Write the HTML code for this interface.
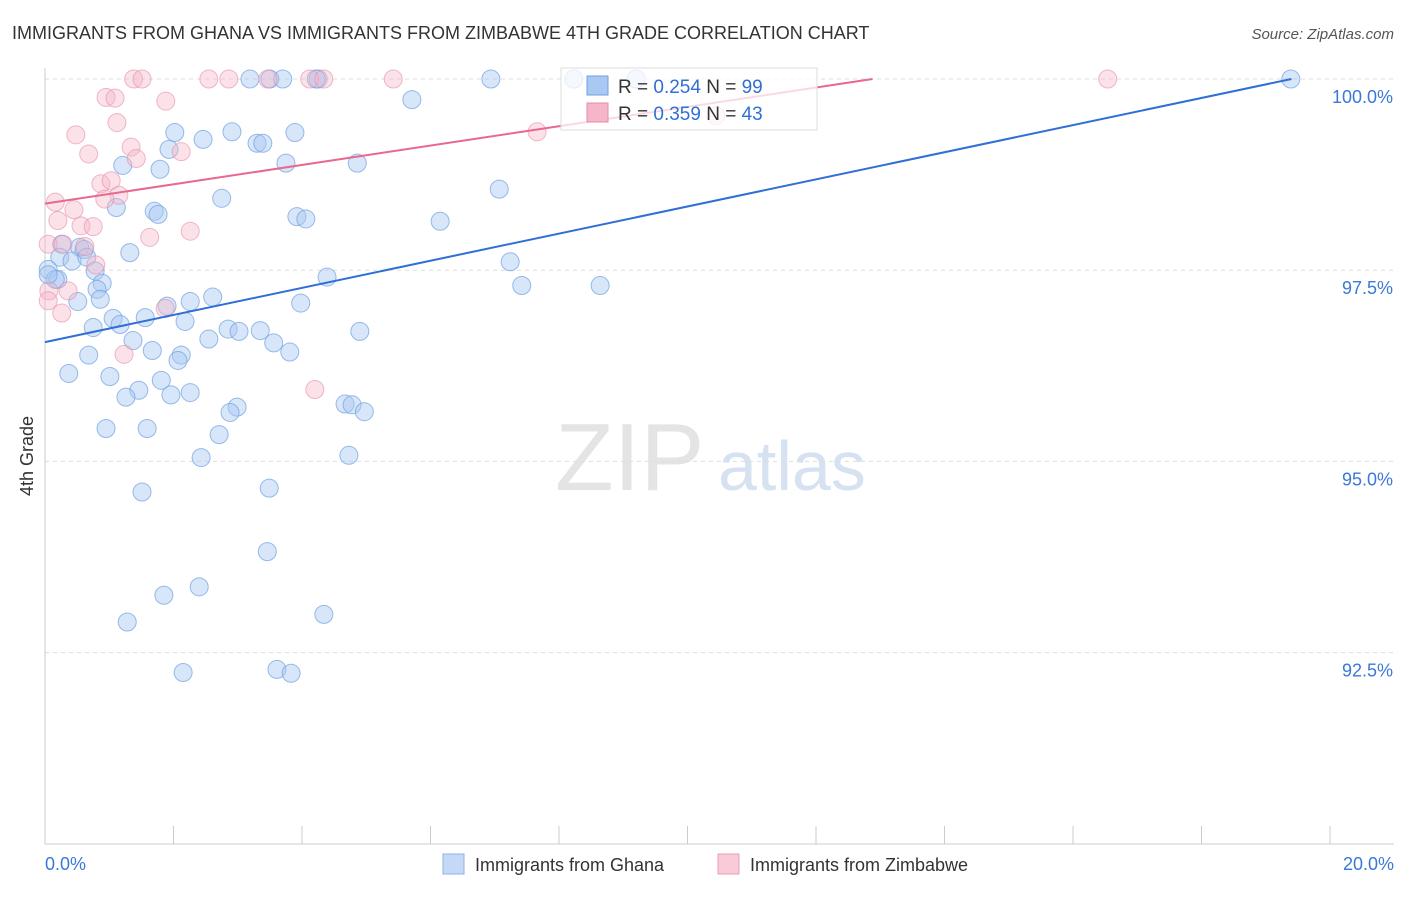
<!DOCTYPE html>
<html><head><meta charset="utf-8"><style>
body{margin:0;background:#fff;font-family:"Liberation Sans",sans-serif;}
svg text{font-family:"Liberation Sans",sans-serif;}
</style></head><body>
<svg width="1406" height="892" xmlns="http://www.w3.org/2000/svg">
<text x="12" y="39" font-size="18" fill="#333">IMMIGRANTS FROM GHANA VS IMMIGRANTS FROM ZIMBABWE 4TH GRADE CORRELATION CHART</text>
<text x="1394" y="39" font-size="15" fill="#555" text-anchor="end" font-style="italic">Source: ZipAtlas.com</text>
<text x="555" y="490" font-size="96" fill="#e4e4e4" font-family="Liberation Serif">ZIP</text>
<text x="718" y="490" font-size="70" fill="#d6e2f2">atlas</text>
<g id="grid"></g>
<g id="axes"></g>
<g id="pts"></g>
<g id="lines"></g>
<text transform="translate(33,456) rotate(-90)" font-size="18" fill="#333" text-anchor="middle">4th Grade</text>
<g>
<rect x="561" y="68" width="256" height="62" fill="#fff" fill-opacity="0.75" stroke="#ddd"/>
<rect x="587" y="76" width="21" height="19" fill="#a9c8f2" stroke="#6f9fe0"/>
<rect x="587" y="103" width="21" height="19" fill="#f6b6c9" stroke="#e88aa8"/>
<text x="618" y="93" font-size="19" fill="#333">R = <tspan fill="#2f6fd6">0.254</tspan>   N = <tspan fill="#2f6fd6">99</tspan></text>
<text x="618" y="120" font-size="19" fill="#333">R = <tspan fill="#2f6fd6">0.359</tspan>   N = <tspan fill="#2f6fd6">43</tspan></text>
</g>
<g>
<rect x="443" y="854" width="21" height="20" fill="#c4d9f5" stroke="#8db3e8"/>
<text x="475" y="871" font-size="18" fill="#333">Immigrants from Ghana</text>
<rect x="718" y="854" width="21" height="20" fill="#f9cad8" stroke="#eb9fb7"/>
<text x="750" y="871" font-size="18" fill="#333">Immigrants from Zimbabwe</text>
</g>
</svg>
<script>
const xTicks=[0,2,4,6,8,10,12,14,16,18,20];
const yTicks=[100,97.5,95,92.5];
const yTickLabels=["100.0%","97.5%","95.0%","92.5%"];
const ghanaX=[3.19,3.5,3.7,4.25,4.22,6.94,8.23,9.2,19.39,5.71,2.02,2.46,2.91,3.89,3.3,3.39,1.93,1.21,1.79,3.75,4.86,2.75,7.07,1.11,1.70,1.76,3.92,4.06,6.15,1.32,0.26,0.54,0.61,0.23,0.42,0.65,0.05,0.2,0.16,0.78,0.89,0.81,7.24,4.39,7.42,8.64,0.51,0.86,1.9,2.26,2.61,3.98,1.06,1.56,1.17,0.75,2.18,2.85,3.02,3.35,4.90,2.55,1.37,3.56,3.81,1.67,2.12,0.68,2.07,0.37,1.01,1.81,1.46,1.26,1.96,2.26,2.99,2.88,4.67,4.78,4.97,0.95,1.59,2.71,4.73,2.43,3.49,1.51,3.46,2.40,1.85,4.34,1.28,2.15,3.61,3.83,0.05];
const ghanaY=[100,100,100,100,100,100,100,100,100,99.73,99.3,99.21,99.31,99.3,99.16,99.16,99.08,98.87,98.82,98.9,98.9,98.44,98.56,98.32,98.27,98.23,98.2,98.17,98.14,97.73,97.84,97.8,97.77,97.67,97.62,97.67,97.51,97.38,97.38,97.49,97.33,97.25,97.61,97.41,97.3,97.3,97.09,97.12,97.03,97.09,97.15,97.07,96.87,96.88,96.79,96.75,96.83,96.73,96.7,96.71,96.7,96.6,96.58,96.55,96.43,96.45,96.39,96.39,96.32,96.15,96.11,96.06,95.93,95.84,95.87,95.9,95.71,95.64,95.75,95.74,95.65,95.43,95.43,95.35,95.08,95.05,94.65,94.6,93.82,93.36,93.25,93.0,92.9,92.24,92.28,92.23,97.44];
const zimX=[1.38,1.51,2.55,2.86,3.47,4.12,4.34,5.42,16.54,0.95,1.09,1.88,7.66,1.12,0.48,1.34,1.42,2.12,0.68,0.87,1.03,1.15,0.93,0.16,0.2,0.45,0.56,0.75,2.26,1.63,0.05,0.28,0.62,0.79,0.06,0.36,0.26,1.87,1.23,4.2,10.44,0.05];
const zimY=[100,100,100,100,100,100,100,100,100,99.76,99.75,99.71,99.31,99.43,99.27,99.11,98.96,99.05,99.02,98.63,98.67,98.48,98.43,98.39,98.15,98.29,98.08,98.07,98.01,97.93,97.84,97.84,97.81,97.57,97.23,97.23,96.94,97.0,96.4,95.94,99.52,97.1];
const ghanaLine=[[0,96.56],[19.4,100]];
const zimLine=[[0,98.37],[12.88,100]];
const X=v=>45+v/20*1285, Y=v=>79+(100-v)/2.5*191.2;
const NS="http://www.w3.org/2000/svg";
function mk(t,a,p){const e=document.createElementNS(NS,t);for(const k in a)e.setAttribute(k,a[k]);document.getElementById(p).appendChild(e);return e;}
yTicks.forEach((v,i)=>{
 const g=mk('line',{x1:45,x2:1394,y1:Y(v),y2:Y(v),stroke:'#ddd','stroke-dasharray':'4,4'},'grid');
 
 
 const t=mk('text',{x:1393,y:Y(v)+24,'font-size':18,fill:'#3b78d8','text-anchor':'end'},'axes');
 t.textContent=yTickLabels[i];
 
 
});
const ax=mk('line',{x1:45,x2:1394,y1:844,y2:844,stroke:'#ccc'},'axes');


const ay=mk('line',{x1:45,x2:45,y1:68,y2:844,stroke:'#ccc'},'axes');


xTicks.forEach(v=>{
 const t=mk('line',{x1:X(v),x2:X(v),y1:826,y2:844,stroke:'#ccc'},'axes');
 
 
});
[[0,'0.0%',45,'start'],[20,'20.0%',1394,'end']].forEach(d=>{
 const t=mk('text',{x:d[2],y:870,'font-size':18,fill:'#3b78d8','text-anchor':d[3]},'axes');
 t.textContent=d[1];
 
 
});
ghanaX.forEach((x,i)=>{
 const c=mk('circle',{cx:X(x),cy:Y(ghanaY[i]),r:9,fill:'#a9c8f2','fill-opacity':0.45,stroke:'#6f9fe0','stroke-opacity':0.7},'pts');
 
 
});
zimX.forEach((x,i)=>{
 const c=mk('circle',{cx:X(x),cy:Y(zimY[i]),r:9,fill:'#f6b6c9','fill-opacity':0.4,stroke:'#e88aa8','stroke-opacity':0.6},'pts');
 
 
});
const l1=mk('line',{x1:X(ghanaLine[0][0]),y1:Y(ghanaLine[0][1]),x2:X(ghanaLine[1][0]),y2:Y(ghanaLine[1][1]),stroke:'#2f6fd6','stroke-width':2},'lines');


const l2=mk('line',{x1:X(zimLine[0][0]),y1:Y(zimLine[0][1]),x2:X(zimLine[1][0]),y2:Y(zimLine[1][1]),stroke:'#e8688f','stroke-width':2},'lines');


</script>
</body></html>
